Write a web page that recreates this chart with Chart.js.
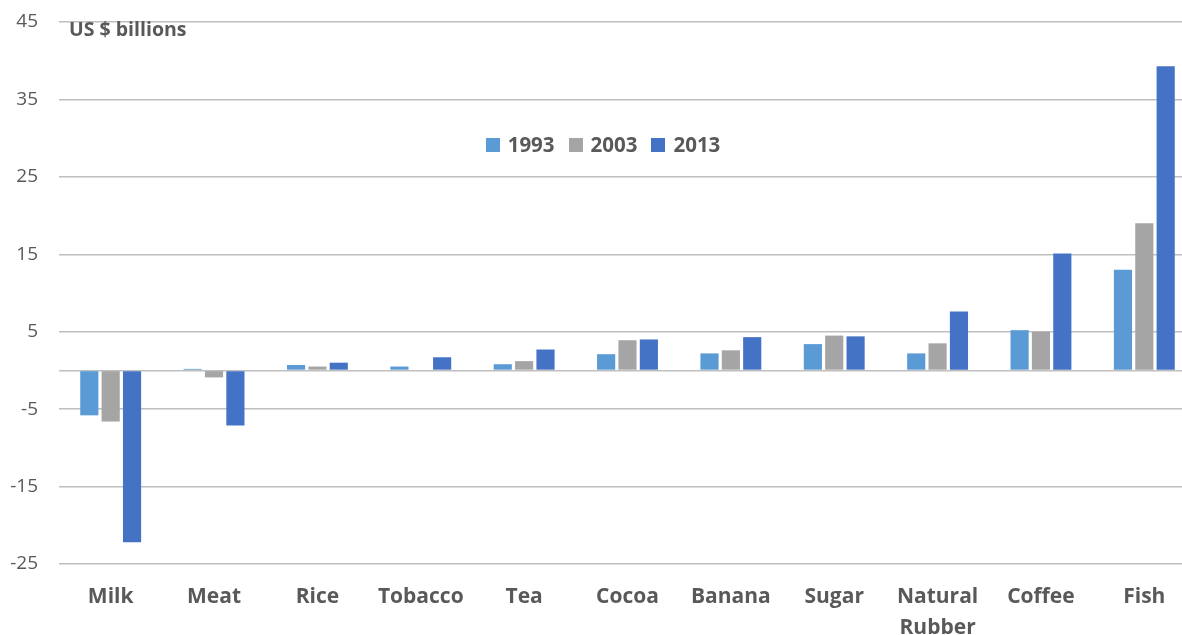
<!DOCTYPE html>
<html>
<head>
<meta charset="utf-8">
<script src="https://cdn.jsdelivr.net/npm/chart.js@4"></script>
<style>
  html, body { margin: 0; padding: 0; background: #fff; overflow: hidden; }
  #wrap { position: relative; width: 1182px; height: 635px; font-family: "Open Sans", sans-serif; overflow: hidden; }
  #c { position: absolute; left: 0; top: 0; }
  #unit { position: absolute; left: 69px; top: 15px; font-weight: bold; font-size: 19.5px; color: #595959; white-space: nowrap; }
  #legend { position: absolute; left: 0; width: 1206px; top: 130px; text-align: center; font-weight: bold; font-size: 20.5px; color: #595959; }
  #legend span.item { margin: 0 7px; white-space: nowrap; }
  #legend span.sw { display: inline-block; width: 14px; height: 14px; margin-right: 8px; vertical-align: 0px; }
</style>
</head>
<body>
<div id="wrap">
  <canvas id="c" width="1196" height="635"></canvas>
  <div id="unit">US $ billions</div>
  <div id="legend"></div>
</div>
<script>
const categories = ["Milk", "Meat", "Rice", "Tobacco", "Tea", "Cocoa", "Banana", "Sugar", ["Natural", "Rubber"], "Coffee", "Fish"];
const seriesNames = ["1993", "2003", "2013"];
const values1993 = [-5.8, 0.2, 0.7, 0.5, 0.8, 2.1, 2.2, 3.4, 2.2, 5.2, 13.0];
const values2003 = [-6.6, -0.9, 0.5, 0.0, 1.2, 3.9, 2.6, 4.5, 3.5, 5.0, 19.0];
const values2013 = [-22.2, -7.1, 1.0, 1.7, 2.7, 4.0, 4.3, 4.4, 7.6, 15.1, 39.3];
const seriesColors = ["#5B9BD5", "#A5A5A5", "#4472C4"];
const yTickLabels = [-25, -15, -5, 5, 15, 25, 35, 45];

const seriesValues = [values1993, values2003, values2013];

// HTML legend
const leg = document.getElementById('legend');
seriesNames.forEach((n, i) => {
  const it = document.createElement('span');
  it.className = 'item';
  it.innerHTML = '<span class="sw" style="background:' + seriesColors[i] + '"></span>' + n;
  leg.appendChild(it);
});

new Chart(document.getElementById('c'), {
  type: 'bar',
  data: {
    labels: categories,
    datasets: seriesNames.map((n, i) => ({
      label: n,
      data: seriesValues[i],
      backgroundColor: seriesColors[i],
      borderWidth: 0,
      categoryPercentage: 0.62,
      barPercentage: 0.85
    }))
  },
  options: {
    responsive: false,
    animation: false,
    devicePixelRatio: 1,
    layout: { padding: { top: 22, right: 0, left: 0, bottom: 0 } },
    plugins: { legend: { display: false }, tooltip: { enabled: false } },
    scales: {
      x: {
        grid: { display: false },
        border: { display: false },
        ticks: {
          color: '#595959',
          font: { family: 'Open Sans', size: 21, weight: 'bold', lineHeight: 1.45 },
          padding: 10,
          maxRotation: 0,
          autoSkip: false
        },
        afterFit: s => { s.height = 71; }
      },
      y: {
        min: -25,
        max: 45,
        border: { display: false },
        grid: {
          color: ctx => {
            const v = ctx.tick ? ctx.tick.value : null;
            return (v === 0 || yTickLabels.includes(v)) ? '#BFBFBF' : 'rgba(0,0,0,0)';
          },
          lineWidth: 1.5,
          drawTicks: false
        },
        ticks: {
          stepSize: 5,
          color: '#595959',
          font: { family: 'Open Sans', size: 19 },
          padding: 21,
          callback: v => yTickLabels.includes(v) ? String(v) : ''
        },
        afterFit: s => { s.width = 59; s.paddingTop = 0; s.paddingBottom = 0; }
      }
    }
  }
});
</script>
</body>
</html>
